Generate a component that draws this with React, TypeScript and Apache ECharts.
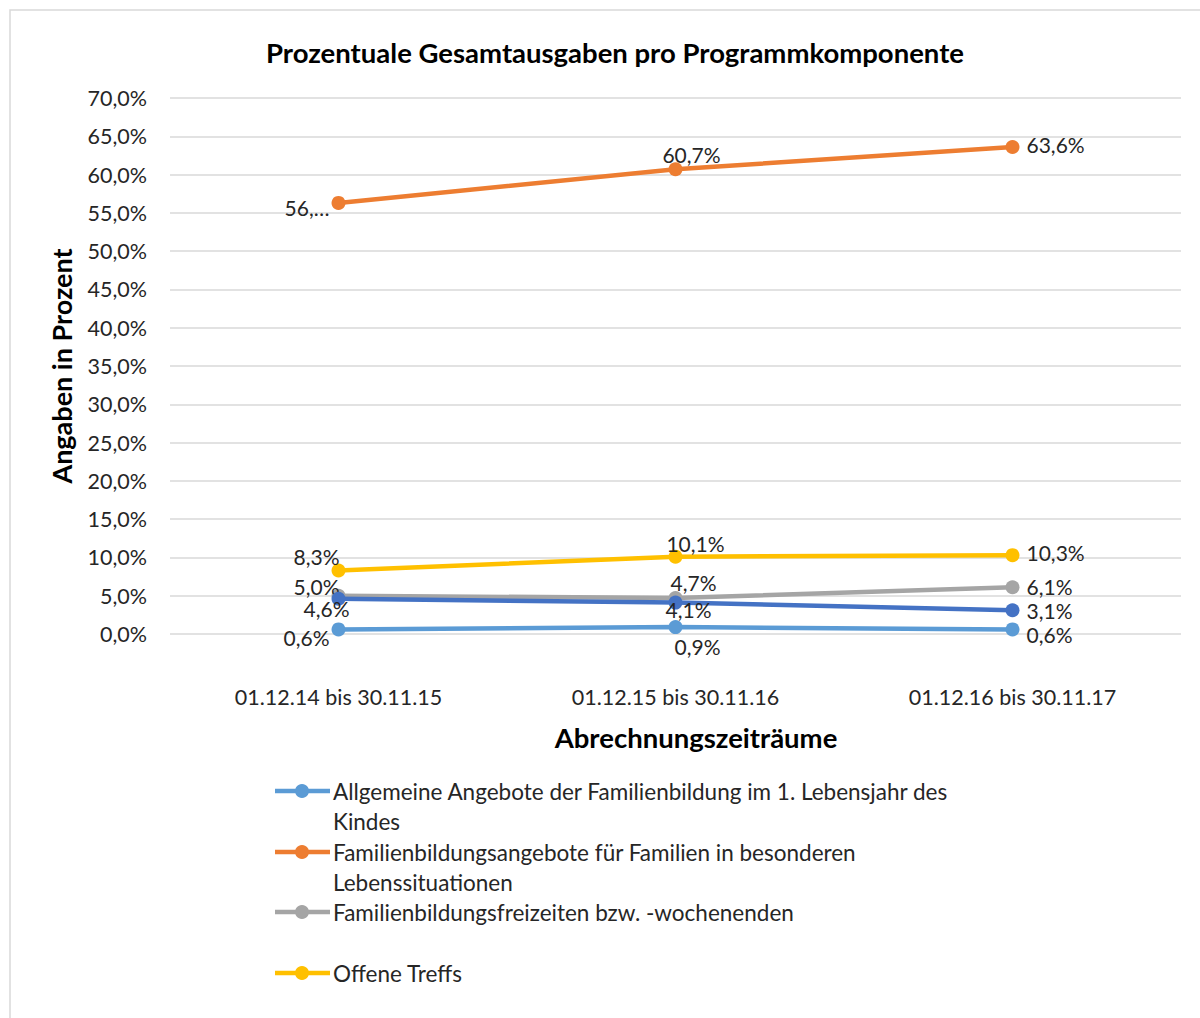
import React, { useEffect, useRef } from "react";
import * as echarts from "echarts";

const categories = ["01.12.14 bis 30.11.15", "01.12.15 bis 30.11.16", "01.12.16 bis 30.11.17"];
const seriesNames = [
  "Allgemeine Angebote der Familienbildung im 1. Lebensjahr des Kindes",
  "Familienbildungsangebote für Familien in besonderen Lebenssituationen",
  "Familienbildungsfreizeiten bzw. -wochenenden",
  "Offene Treffs",
  "Weitere Angebote",
];
const legendLines = [
  ["Allgemeine Angebote der Familienbildung im 1. Lebensjahr des", "Kindes"],
  ["Familienbildungsangebote für Familien in besonderen", "Lebenssituationen"],
  ["Familienbildungsfreizeiten bzw. -wochenenden"],
  ["Offene Treffs"],
];
const allgemeine = [0.6, 0.9, 0.6];
const besondere = [56.3, 60.7, 63.6];
const freizeiten = [5.0, 4.7, 6.1];
const offeneTreffs = [8.3, 10.1, 10.3];
const weitere = [4.6, 4.1, 3.1];
const yTicks = { min: 0, max: 70, interval: 5 };
const colors = ["#5B9BD5", "#ED7D31", "#A5A5A5", "#FFC000", "#4472C4"];

// label placements per series / point
const placements: any[][] = [
  [{ p: "left", o: [3, 8] }, { p: "bottom", o: [22, -3] }, { p: "right", o: [2, 5] }],
  [{ p: "left", o: [3, 5], t: "56,…" }, { p: "top", o: [16, 7] }, { p: "right", o: [2, -3] }],
  [{ p: "left", o: [13, -9] }, { p: "top", o: [18, 6] }, { p: "right", o: [2, -1] }],
  [{ p: "left", o: [13, -14] }, { p: "top", o: [20, 9] }, { p: "right", o: [2, -3] }],
  [{ p: "left", o: [23, 10] }, { p: "bottom", o: [13, -15] }, { p: "right", o: [2, 0] }],
];
const legendRowsY = [791, 852, 912, 973];

const FONT = "Lato";
const fmt = (v: number) => v.toFixed(1).replace(".", ",") + "%";

export default function App() {
  const ref = useRef<HTMLDivElement>(null);
  useEffect(() => {
    document.body.style.margin = "0";
    const chart = echarts.init(ref.current!, null, { renderer: "svg" });
    const values = [allgemeine, besondere, freizeiten, offeneTreffs, weitere];
    const series = values.map((vals, si) => ({
      name: seriesNames[si],
      type: "line",
      data: vals.map((v, i) => {
        const pl = placements[si][i];
        return {
          value: v,
          label: {
            position: pl.p,
            offset: pl.o,
            formatter: pl.t ? pl.t : fmt(v),
          },
        };
      }),
      symbol: "circle",
      symbolSize: 14,
      lineStyle: { width: 4.5, color: colors[si] },
      itemStyle: { color: colors[si] },
      label: {
        show: true,
        fontFamily: FONT,
        fontSize: 21,
        lineHeight: 20,
        color: "#262626",
        distance: 5,
      },
      z: 2 + si,
    }));

    const legendGraphics: any[] = [];
    legendLines.forEach((lines, i) => {
      const y = legendRowsY[i];
      legendGraphics.push({
        type: "line",
        shape: { x1: 275, y1: y, x2: 330, y2: y },
        style: { stroke: colors[i], lineWidth: 4.5 },
      });
      legendGraphics.push({
        type: "circle",
        shape: { cx: 302, cy: y, r: 7 },
        style: { fill: colors[i] },
      });
      legendGraphics.push({
        type: "text",
        x: 333,
        y: y - 15,
        style: {
          text: lines.join("\n"),
          fontFamily: FONT,
          fontSize: 22.5,
          lineHeight: 30,
          fill: "#262626",
          verticalAlign: "top",
        },
      });
    });

    chart.setOption({
      animation: false,
      backgroundColor: "#ffffff",
      title: {
        text: "Prozentuale Gesamtausgaben pro Programmkomponente",
        left: 610,
        top: 33,
        textAlign: "center",
        textStyle: { fontFamily: FONT, fontSize: 27.5, fontWeight: "bold", color: "#000000" },
      },
      grid: { left: 170, right: 19, top: 98, bottom: 384 },
      xAxis: {
        type: "category",
        data: categories,
        boundaryGap: true,
        axisLine: { show: false },
        axisTick: { show: false },
        axisLabel: { fontFamily: FONT, fontSize: 21.5, color: "#262626", margin: 52 },
        name: "Abrechnungszeiträume",
        nameLocation: "middle",
        nameGap: 89,
        nameTextStyle: {
          fontFamily: FONT,
          fontSize: 27.5,
          fontWeight: "bold",
          color: "#000000",
          padding: [0, 0, 0, 41],
        },
      },
      yAxis: {
        type: "value",
        min: yTicks.min,
        max: yTicks.max,
        interval: yTicks.interval,
        axisLine: { show: false },
        axisTick: { show: false },
        splitLine: { lineStyle: { color: "#d9d9d9", width: 1.5 } },
        axisLabel: { fontFamily: FONT, fontSize: 21.5, color: "#262626", margin: 23, formatter: (v: number) => fmt(v) },
        name: "Angaben in Prozent",
        nameLocation: "middle",
        nameGap: 95,
        nameTextStyle: { fontFamily: FONT, fontSize: 27, fontWeight: "bold", color: "#000000" },
      },
      graphic: [
        {
          type: "rect",
          shape: { x: 10, y: 10, width: 1200, height: 1020 },
          style: { fill: "none", stroke: "#d9d9d9", lineWidth: 1.5 },
          z: -1,
        },
        ...legendGraphics,
      ],
      series,
    });
    return () => chart.dispose();
  }, []);
  return <div ref={ref} style={{ position: "fixed", left: 0, top: 0, width: 1200, height: 1018 }} />;
}
